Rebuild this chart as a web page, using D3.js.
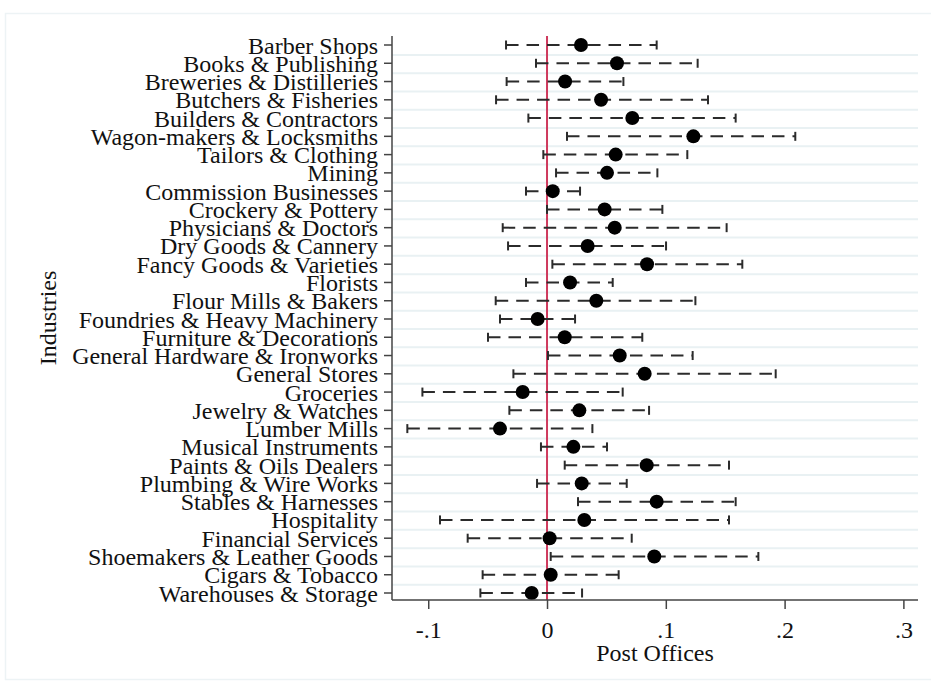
<!DOCTYPE html>
<html>
<head>
<meta charset="utf-8">
<script src="https://cdn.jsdelivr.net/npm/d3@7"></script>
<style>
  html, body { margin: 0; padding: 0; background: #ffffff; }
  svg { display: block; }
  text { font-family: "Liberation Serif", "Times New Roman", serif; fill: #111; }
</style>
</head>
<body>
<svg id="chart" width="931" height="686"></svg>
<script>
// Industry categories, top to bottom
const categories = [
  "Barber Shops", "Books & Publishing", "Breweries & Distilleries", "Butchers & Fisheries",
  "Builders & Contractors", "Wagon-makers & Locksmiths", "Tailors & Clothing", "Mining",
  "Commission Businesses", "Crockery & Pottery", "Physicians & Doctors", "Dry Goods & Cannery",
  "Fancy Goods & Varieties", "Florists", "Flour Mills & Bakers", "Foundries & Heavy Machinery",
  "Furniture & Decorations", "General Hardware & Ironworks", "General Stores", "Groceries",
  "Jewelry & Watches", "Lumber Mills", "Musical Instruments", "Paints & Oils Dealers",
  "Plumbing & Wire Works", "Stables & Harnesses", "Hospitality", "Financial Services",
  "Shoemakers & Leather Goods", "Cigars & Tobacco", "Warehouses & Storage"
];

// Point estimates
const estimates = [
  0.0286, 0.0589, 0.0152, 0.0455, 0.0718, 0.1232, 0.0578, 0.0505,
  0.0048, 0.0485, 0.0570, 0.0342, 0.0842, 0.0194, 0.0415, -0.0079,
  0.0149, 0.0612, 0.0822, -0.0205, 0.0272, -0.0396, 0.0222, 0.0839,
  0.0292, 0.0923, 0.0314, 0.0022, 0.0903, 0.0031, -0.0129
];

// Lower bounds of the confidence intervals
const lower = [
  -0.0345, -0.0093, -0.0340, -0.0429, -0.0157, 0.0168, -0.0031, 0.0076,
  -0.0177, 0.0000, -0.0373, -0.0328, 0.0045, -0.0177, -0.0432, -0.0396,
  -0.0497, 0.0008, -0.0283, -0.1049, -0.0317, -0.1176, -0.0051, 0.0149,
  -0.0084, 0.0261, -0.0901, -0.0668, 0.0031, -0.0542, -0.0561
];

// Upper bounds of the confidence intervals
const upper = [
  0.0923, 0.1268, 0.0643, 0.1355, 0.1588, 0.2090, 0.1181, 0.0929,
  0.0278, 0.0971, 0.1512, 0.1002, 0.1644, 0.0553, 0.1249, 0.0236,
  0.0802, 0.1226, 0.1925, 0.0637, 0.0859, 0.0382, 0.0505, 0.1532,
  0.0671, 0.1588, 0.1532, 0.0713, 0.1779, 0.0603, 0.0295
];

// X axis ticks
const xTickValues = [-0.1, 0, 0.1, 0.2, 0.3];
const xTickLabels = ["-.1", "0", ".1", ".2", ".3"];

const xTitle = "Post Offices";
const yTitle = "Industries";

const FONT = 24;
const svg = d3.select("#chart");

// outer graph region border
svg.append("rect")
  .attr("x", 5.5).attr("y", 13.5)
  .attr("width", 940).attr("height", 666)
  .attr("fill", "none")
  .attr("stroke", "#edf3f5")
  .attr("stroke-width", 1.5);

const plot = { left: 392, right: 918, top: 36, bottom: 600 };

const x = d3.scaleLinear().domain([-0.1305, 0.3123]).range([plot.left, plot.right]);
const y = d3.scalePoint().domain(categories).range([45, 593]);

// horizontal gridlines between rows
const mids = categories.slice(0, -1).map((c, i) => (y(c) + y(categories[i + 1])) / 2 + 0.8);
svg.append("g").selectAll("line").data(mids).join("line")
  .attr("x1", plot.left).attr("x2", plot.right)
  .attr("y1", d => d).attr("y2", d => d)
  .attr("stroke", "#e9f1f3")
  .attr("stroke-width", 2);

// reference line at zero
svg.append("line")
  .attr("x1", x(0)).attr("x2", x(0))
  .attr("y1", plot.top).attr("y2", plot.bottom)
  .attr("stroke", "#cf3a5d")
  .attr("stroke-width", 2);

const rows = categories.map((c, i) => ({ c, est: estimates[i], lo: lower[i], hi: upper[i] }));

// confidence intervals
const ci = svg.append("g");
ci.selectAll("line.whisker").data(rows).join("line")
  .attr("class", "whisker")
  .attr("x1", d => x(d.lo)).attr("x2", d => x(d.hi))
  .attr("y1", d => y(d.c)).attr("y2", d => y(d.c))
  .attr("stroke", "#2b2b2b")
  .attr("stroke-width", 2)
  .attr("stroke-dasharray", "12.5,8");
["lo", "hi"].forEach(k => {
  ci.selectAll("line.cap-" + k).data(rows).join("line")
    .attr("class", "cap-" + k)
    .attr("x1", d => x(d[k])).attr("x2", d => x(d[k]))
    .attr("y1", d => y(d.c) - 4.5).attr("y2", d => y(d.c) + 4.5)
    .attr("stroke", "#2b2b2b")
    .attr("stroke-width", 2);
});

// point estimates
svg.append("g").selectAll("circle").data(rows).join("circle")
  .attr("cx", d => x(d.est)).attr("cy", d => y(d.c))
  .attr("r", 7)
  .attr("fill", "#000");

// y axis
const yAxis = svg.append("g");
yAxis.append("line")
  .attr("x1", plot.left).attr("x2", plot.left)
  .attr("y1", plot.top).attr("y2", plot.bottom)
  .attr("stroke", "#444").attr("stroke-width", 1.5);
yAxis.selectAll("line.tick").data(categories).join("line")
  .attr("class", "tick")
  .attr("x1", plot.left - 8).attr("x2", plot.left)
  .attr("y1", d => y(d)).attr("y2", d => y(d))
  .attr("stroke", "#444").attr("stroke-width", 1.5);
yAxis.selectAll("text").data(categories).join("text")
  .attr("x", plot.left - 14)
  .attr("y", d => y(d) + 8.5)
  .attr("text-anchor", "end")
  .attr("font-size", FONT)
  .text(d => d);

// x axis
const xAxis = d3.axisBottom(x)
  .tickValues(xTickValues)
  .tickFormat((d, i) => xTickLabels[i])
  .tickSize(9)
  .tickPadding(12);
const gx = svg.append("g")
  .attr("transform", `translate(0,${plot.bottom})`)
  .call(xAxis);
gx.select(".domain").remove();
gx.append("line")
  .attr("x1", plot.left).attr("x2", plot.right)
  .attr("y1", 0).attr("y2", 0)
  .attr("stroke", "#444").attr("stroke-width", 1.5);
gx.selectAll(".tick line").attr("stroke", "#444").attr("stroke-width", 1.5);
gx.selectAll(".tick text")
  .attr("font-family", "Liberation Serif, serif")
  .attr("font-size", FONT)
  .attr("fill", "#111");

// axis titles
svg.append("text")
  .attr("x", (plot.left + plot.right) / 2)
  .attr("y", 661)
  .attr("text-anchor", "middle")
  .attr("font-size", FONT)
  .text(xTitle);

svg.append("text")
  .attr("transform", `translate(56,${(plot.top + plot.bottom) / 2}) rotate(-90)`)
  .attr("text-anchor", "middle")
  .attr("font-size", FONT)
  .text(yTitle);
</script>
</body>
</html>
